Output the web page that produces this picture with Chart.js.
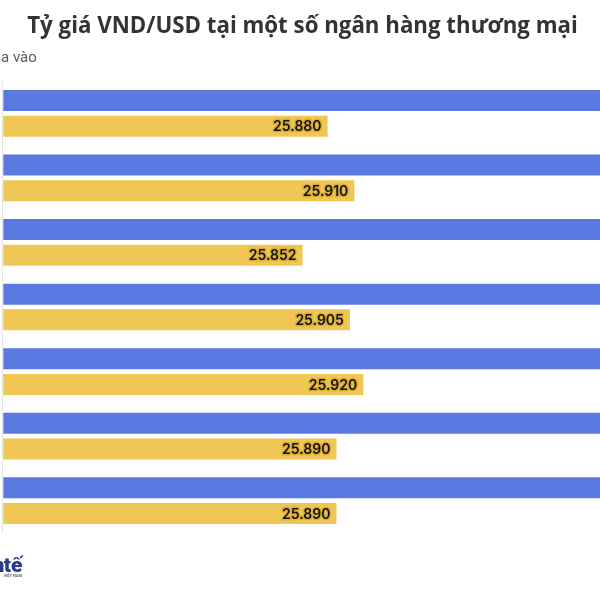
<!DOCTYPE html>
<html><head><meta charset="utf-8">
<script src="https://cdn.jsdelivr.net/npm/chart.js@4"></script>
<style>html,body{margin:0;padding:0;background:#fff;overflow:hidden}#wrap{width:600px;height:600px;position:relative}</style>
</head><body><div id="wrap"><canvas id="c"></canvas></div>
<script>
const banks = ["Vietcombank","VietinBank","BIDV","Agribank","Techcombank","ACB","Sacombank"];
const sellRates = [26270, 26300, 26242, 26295, 26310, 26280, 26280];
const buyRates = [25880, 25910, 25852, 25905, 25920, 25890, 25890];
const titleText = "Tỷ giá VND/USD tại một số ngân hàng thương mại";
const legendText = "Mua vào";
const axisMin = 25517, axisMax = 26185;

const fmt = v => String(v).replace(/\B(?=(\d{3})+(?!\d))/g, ".");

const deco = {
  id: 'deco',
  beforeDraw(chart) {
    const ctx = chart.ctx;
    ctx.save();
    ctx.fillStyle = '#fff';
    ctx.fillRect(0, 0, chart.width, chart.height);
    ctx.restore();
  },
  afterDatasetsDraw(chart) {
    const ctx = chart.ctx;
    const ca = chart.chartArea;
    ctx.save();
    // axis line
    ctx.strokeStyle = '#e3e3e3';
    ctx.lineWidth = 1;
    ctx.beginPath();
    ctx.moveTo(Math.round(ca.left) - 0.5, ca.top);
    ctx.lineTo(Math.round(ca.left) - 0.5, ca.bottom);
    ctx.stroke();
    // labels on buy bars
    const meta = chart.getDatasetMeta(1);
    ctx.font = '600 14px Inter, Roboto, sans-serif';
    ctx.textAlign = 'right';
    ctx.textBaseline = 'middle';
    meta.data.forEach((bar, i) => {
      const t = fmt(buyRates[i]);
      ctx.lineWidth = 3;
      ctx.strokeStyle = 'rgba(214,168,50,0.75)';
      ctx.lineJoin = 'round';
      ctx.strokeText(t, bar.x - 6, bar.y + 1);
      ctx.fillStyle = '#111';
      ctx.fillText(t, bar.x - 6, bar.y + 1);
    });
    // title
    ctx.textAlign = 'center';
    ctx.textBaseline = 'alphabetic';
    ctx.fillStyle = '#333';
    ctx.font = 'bold 22px "Open Sans", sans-serif';
    const tw = ctx.measureText(titleText).width;
    const fs = 22 * 551 / tw;
    ctx.font = 'bold ' + fs.toFixed(2) + 'px "Open Sans", sans-serif';
    ctx.fillText(titleText, 302.5, 32.5);
    // legend (cropped on the left)
    ctx.textAlign = 'left';
    ctx.fillStyle = '#5a5a5a';
    ctx.font = '15px Roboto, sans-serif';
    const mu = ctx.measureText('Mu').width;
    ctx.fillText(legendText, -mu + 1, 61.5);
    // logo (cropped on the left)
    ctx.fillStyle = '#2a3a8c';
    ctx.font = '900 21px Roboto, sans-serif';
    ctx.textAlign = 'right';
    const w2 = ctx.measureText('tế').width;
    ctx.fillText('tế', 22.5, 571.5);
    ctx.fillText('Kinh', 22.5 - w2 + 0.5, 571.5);
    ctx.font = 'bold 4px Roboto, sans-serif';
    ctx.fillStyle = '#667';
    ctx.fillText('VIỆT NAM', 22, 577);
    ctx.restore();
  }
};

new Chart(document.getElementById('c'), {
  type: 'bar',
  data: {
    labels: banks,
    datasets: [
      { label: 'Bán ra', data: sellRates, backgroundColor: '#5a7ae2', borderWidth: 0, barPercentage: 0.817, categoryPercentage: 0.796 },
      { label: 'Mua vào', data: buyRates, backgroundColor: '#f0c654', borderWidth: 0, barPercentage: 0.817, categoryPercentage: 0.796 }
    ]
  },
  options: {
    indexAxis: 'y',
    responsive: true,
    maintainAspectRatio: false,
    animation: false,
    layout: { padding: { left: 3.3, right: 0, top: 81, bottom: 67 } },
    plugins: { legend: { display: false }, title: { display: false }, tooltip: { enabled: false } },
    scales: {
      x: { display: false, min: axisMin, max: axisMax },
      y: { display: false }
    }
  },
  plugins: [deco]
});
</script></body></html>
